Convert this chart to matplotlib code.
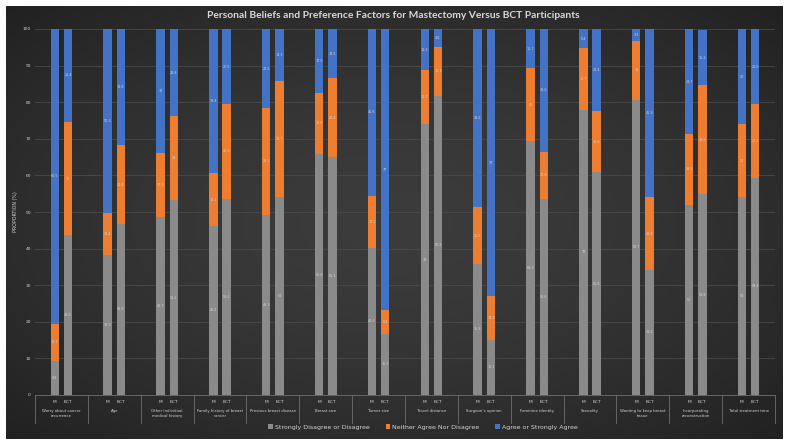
import numpy as np
import matplotlib.pyplot as plt
from matplotlib.transforms import blended_transform_factory

# data (percent of participants)
categories = [
    "Worry about cancer\nrecurrence", "Age", "Other individual\nmedical history",
    "Family history of breast\ncancer", "Previous breast disease", "Breast size",
    "Tumor size", "Travel distance", "Surgeon\u2019s opinion", "Feminine identity",
    "Sexuality", "Wanting to keep breast\ntissue", "Incorporating\nreconstruction",
    "Total treatment time",
]
groups = ["M", "BCT"]
series_names = ["Strongly Disagree or Disagree", "Neither Agree Nor Disagree", "Agree or Strongly Agree"]

disagree_m = [9.4, 38.3, 48.7, 46.2, 49.3, 65.8, 40.3, 74, 35.8, 69.3, 78, 80.7, 52, 54]
neutral_m = [10.1, 11.4, 17.3, 14.4, 29.1, 16.8, 14.1, 14.7, 15.5, 20, 16.7, 16, 19.3, 20]
agree_m = [80.5, 50.3, 34, 39.4, 21.6, 17.5, 45.6, 11.3, 48.6, 10.7, 5.4, 3.3, 28.7, 26]

disagree_bct = [43.6, 46.8, 53.2, 53.6, 54, 65.1, 16.7, 81.8, 15.1, 53.6, 60.8, 34.2, 54.8, 59.4]
neutral_bct = [31.0, 21.4, 23, 25.9, 31.7, 21.4, 6.4, 13.3, 11.9, 12.8, 16.8, 19.8, 29.8, 20.1]
agree_bct = [25.4, 31.8, 23.8, 20.5, 14.3, 13.5, 77, 4.8, 73, 33.6, 22.4, 45.9, 15.2, 20.5]

colors = ["#8a8a8a", "#ed7d31", "#4472c4"]
text_col = "#d4d4d4"

fig = plt.figure(figsize=(7.87, 4.46), dpi=100, facecolor="white")

# dark panel with a soft radial gradient, like the Excel chart area
bg = fig.add_axes([6 / 787, 1 - 439 / 446, 777 / 787, 433 / 446], zorder=-5)
gx, gy = np.meshgrid(np.linspace(-1, 1, 400), np.linspace(-1, 1, 240))
r = np.clip(np.sqrt(gx ** 2 + gy ** 2) / np.sqrt(2), 0, 1)
shade = 0.235 - 0.105 * r ** 1.5
bg.imshow(np.dstack([shade, shade, shade]), aspect="auto", extent=(0, 1, 0, 1))
bg.set_axis_off()

ax = fig.add_axes([35 / 787, 1 - 395 / 446, 740 / 787, 366 / 446])
ax.set_facecolor("none")

x = np.arange(len(categories))
width = 0.16
offset = 0.125

handles = []
for off, parts in [(-offset, (disagree_m, neutral_m, agree_m)),
                   (offset, (disagree_bct, neutral_bct, agree_bct))]:
    bottom = np.zeros(len(categories))
    conts = []
    for vals, col, name in zip(parts, colors, series_names):
        vals = np.array(vals, dtype=float)
        c = ax.bar(x + off, vals, width, bottom=bottom, color=col, label=name, zorder=3)
        ax.bar_label(c, fmt="{:g}", label_type="center", fontsize=2.4, color=text_col)
        bottom += vals
        conts.append(c)
    if not handles:
        handles = conts

ax.set_xlim(-0.5, len(categories) - 0.5)
ax.set_ylim(0, 100)
ax.set_yticks(np.arange(0, 101, 10))
ax.tick_params(axis="y", length=0, labelsize=3.2, labelcolor=text_col, pad=3)
ax.set_xticks([])
ax.yaxis.grid(True, color="#4a4a4a", linewidth=0.6, zorder=0)
for s in ["top", "right", "left"]:
    ax.spines[s].set_visible(False)
ax.spines["bottom"].set_color("#6e6e6e")
ax.spines["bottom"].set_linewidth(0.6)
ax.set_ylabel("PROPORTION (%)", fontsize=3.4, color=text_col, labelpad=3)

# two-level category axis
trans = blended_transform_factory(ax.transData, ax.transAxes)
for b in np.arange(len(categories) + 1) - 0.5:
    ax.plot([b, b], [0, -0.076], transform=trans, color="#6e6e6e",
            linewidth=0.6, clip_on=False)
for i, name in enumerate(categories):
    for g, off in zip(groups, [-offset, offset]):
        ax.text(i + off, -0.019, g, transform=trans, ha="center", va="center",
                fontsize=3.2, color=text_col)
    ax.text(i, -0.038, name, transform=trans, ha="center", va="top",
            fontsize=2.8, color=text_col, linespacing=1.3)

fig.text(0.5, 1 - 16 / 446, "Personal Beliefs and Preference Factors for Mastectomy Versus BCT Participants",
         ha="center", va="center", fontsize=7.4, fontweight="bold", color="#d9d9d9",
         family="Lato")

fig.legend(handles, series_names, loc="center", bbox_to_anchor=(423 / 787, 1 - 427 / 446),
           ncol=3, frameon=False, fontsize=4.5, labelcolor=text_col,
           handlelength=0.7, handleheight=0.7, handletextpad=0.4, columnspacing=2.5)

fig.savefig("out.png", dpi=100, facecolor=fig.get_facecolor())
